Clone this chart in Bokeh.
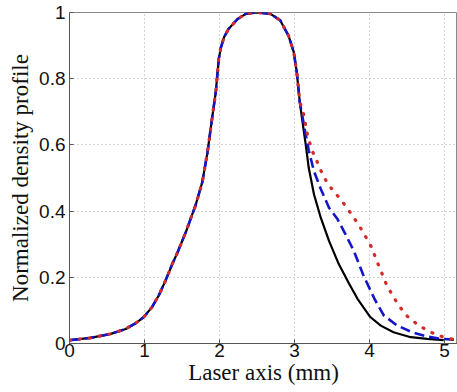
from bokeh.plotting import figure
from bokeh.models import FixedTicker, Range1d
from bokeh.embed import file_html
from bokeh.resources import INLINE

# shared part of the three profiles (rise, plateau, start of fall)
x_core = [0, 0.28, 0.55, 0.75, 0.88, 0.99, 1.10, 1.19, 1.28, 1.37, 1.44, 1.55, 1.68, 1.77,
          1.84, 1.90, 1.95, 1.99, 2.02, 2.06, 2.12, 2.24, 2.35, 2.50, 2.68, 2.81, 2.92,
          2.99, 3.03, 3.07]
y_core = [0.01, 0.017, 0.029, 0.044, 0.061, 0.08, 0.11, 0.145, 0.19, 0.24, 0.275, 0.336,
          0.417, 0.487, 0.578, 0.679, 0.759, 0.86, 0.895, 0.925, 0.95, 0.98, 0.996, 1.0,
          0.996, 0.976, 0.93, 0.88, 0.82, 0.73]

# black solid tail
x_black = [3.10, 3.15, 3.19, 3.26, 3.35, 3.46, 3.59, 3.73, 3.84, 4.01, 4.15, 4.32, 4.55,
           4.77, 4.95, 4.99]
y_black = [0.68, 0.60, 0.53, 0.45, 0.38, 0.31, 0.24, 0.18, 0.135, 0.08, 0.054, 0.034,
           0.019, 0.014, 0.011, 0.01]

# blue dashed tail
x_blue = [3.11, 3.15, 3.19, 3.26, 3.35, 3.46, 3.57, 3.68, 3.79, 3.92, 4.07, 4.19, 4.37,
          4.57, 4.77, 4.95, 5.17]
y_blue = [0.68, 0.63, 0.583, 0.52, 0.467, 0.41, 0.377, 0.33, 0.28, 0.205, 0.133, 0.085,
          0.054, 0.034, 0.021, 0.014, 0.011]

# red dotted tail
x_red = [3.12, 3.17, 3.23, 3.30, 3.37, 3.45, 3.56, 3.67, 3.77, 3.86, 3.95, 4.03, 4.09,
         4.16, 4.22, 4.30, 4.39, 4.49, 4.63, 4.77, 4.92, 5.08, 5.17]
y_red = [0.694, 0.634, 0.585, 0.55, 0.513, 0.48, 0.45, 0.419, 0.387, 0.357, 0.322, 0.29,
         0.253, 0.215, 0.181, 0.148, 0.115, 0.085, 0.059, 0.039, 0.024, 0.014, 0.013]

x_ticks = [0, 1, 2, 3, 4, 5]
y_ticks = [0, 0.2, 0.4, 0.6, 0.8, 1]
y_tick_labels = ["0", "0.2", "0.4", "0.6", "0.8", "1"]

p = figure(width=457, height=392, output_backend="svg", toolbar_location=None,
           x_range=Range1d(0, 5.173), y_range=Range1d(0, 1.0),
           min_border_left=69, min_border_right=0, min_border_top=12, min_border_bottom=49)
p.background_fill_color = "white"
p.border_fill_color = "white"
p.outline_line_color = "#8a8a8a"
p.outline_line_width = 1

p.line(x_core + x_black, y_core + y_black, line_color="black", line_width=2.2)
p.line(x_core + x_blue, y_core + y_blue, line_color="#1414c8", line_width=2.6,
       line_dash="10 5")
p.line(x_core + x_red, y_core + y_red, line_color="#d42a2a", line_width=3.2,
       line_dash="1 9", line_cap="round")

p.xaxis.ticker = FixedTicker(ticks=x_ticks)
p.yaxis.ticker = FixedTicker(ticks=y_ticks)
p.yaxis.major_label_overrides = {t: l for t, l in zip(y_ticks, y_tick_labels)}

for ax in (p.xaxis[0], p.yaxis[0]):
    ax.axis_line_color = "#555555"
    ax.major_tick_line_color = "#555555"
    ax.major_tick_in = 4
    ax.major_tick_out = 0
    ax.minor_tick_line_color = None
    ax.major_label_text_font = "Liberation Sans"
    ax.major_label_text_font_size = "19px"
    ax.major_label_text_color = "#111111"
    ax.axis_label_text_font = "Liberation Serif"
    ax.axis_label_text_font_size = "23px"
    ax.axis_label_text_font_style = "normal"
    ax.axis_label_text_color = "#111111"

p.xaxis.axis_label = "Laser axis (mm)"
p.yaxis.axis_label = "Normalized density profile"
p.xaxis.major_label_standoff = 0
p.xaxis.axis_label_standoff = 0
p.yaxis.major_label_standoff = 4
p.yaxis.axis_label_standoff = 3

p.grid.grid_line_color = "#a8a8a8"
p.grid.grid_line_dash = "1 3"
p.grid.grid_line_width = 1

open("out.html", "w").write(file_html(p, INLINE))
